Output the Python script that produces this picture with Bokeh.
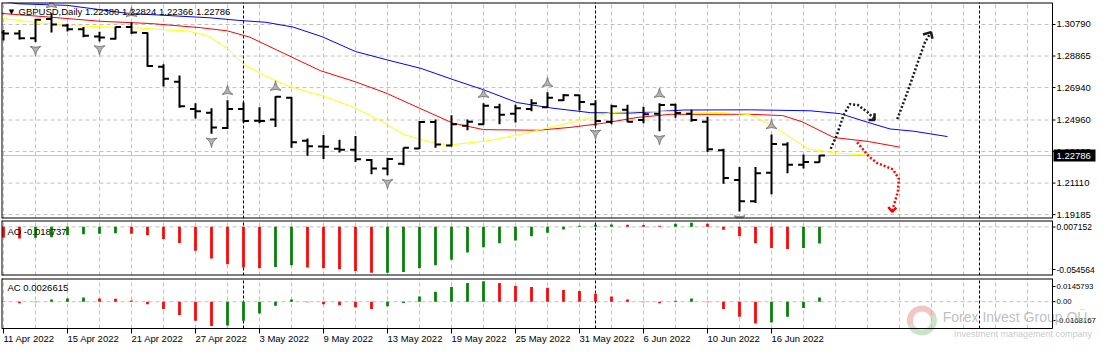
import math
from bokeh.plotting import figure
from bokeh.models import Range1d
from bokeh.layouts import column
from bokeh.embed import file_html
from bokeh.resources import INLINE
from bokeh.core.properties import value

# ---------------- data ----------------
symbol = "GBPUSD,Daily"
date_labels = ["11 Apr 2022", "15 Apr 2022", "21 Apr 2022", "27 Apr 2022", "3 May 2022",
               "9 May 2022", "13 May 2022", "19 May 2022", "25 May 2022", "31 May 2022",
               "6 Jun 2022", "10 Jun 2022", "16 Jun 2022"]
date_label_idx = [0, 4, 8, 12, 16, 20, 24, 28, 32, 36, 40, 44, 48]

opens = [1.30304, 1.30245, 1.29954, 1.31120, 1.30731, 1.30498, 1.30051, 1.29915, 1.30640, 1.30265,
         1.28204, 1.27290, 1.25637, 1.25404, 1.24470, 1.25637, 1.24918, 1.24995, 1.26318, 1.23693,
         1.23343, 1.23207, 1.23148, 1.22526, 1.22001, 1.22293, 1.23226, 1.24840, 1.23401, 1.24607,
         1.24704, 1.25734, 1.25345, 1.25637, 1.25734, 1.26162, 1.26473, 1.25929, 1.24859, 1.25579,
         1.24956, 1.25345, 1.25890, 1.25345, 1.24859, 1.23109, 1.21301, 1.19998, 1.21748, 1.23459,
         1.22234, 1.22380]
highs = [1.30459, 1.30459, 1.31120, 1.31470, 1.30829, 1.30634, 1.30342, 1.30654, 1.30926, 1.30304,
         1.28359, 1.27679, 1.25987, 1.25676, 1.26162, 1.26026, 1.25734, 1.26415, 1.26357, 1.23829,
         1.24043, 1.23751, 1.23984, 1.22584, 1.22662, 1.23265, 1.24898, 1.24995, 1.25248, 1.24995,
         1.25987, 1.25950, 1.25890, 1.26220, 1.26648, 1.26551, 1.26512, 1.26162, 1.25890, 1.25890,
         1.25773, 1.25987, 1.25950, 1.25579, 1.25151, 1.23207, 1.22098, 1.22098, 1.24082, 1.23595,
         1.22857, 1.22824]
lows = [1.29817, 1.29876, 1.29720, 1.30304, 1.30362, 1.30012, 1.29759, 1.29876, 1.30206, 1.28204,
        1.26998, 1.25715, 1.25054, 1.24120, 1.24412, 1.24801, 1.24762, 1.24529, 1.23265, 1.22779,
        1.22584, 1.22973, 1.22390, 1.21651, 1.21593, 1.22195, 1.23187, 1.23265, 1.23343, 1.24334,
        1.24665, 1.24704, 1.24801, 1.25501, 1.25695, 1.26123, 1.25540, 1.24607, 1.24704, 1.24820,
        1.24762, 1.24276, 1.25093, 1.24859, 1.23012, 1.21068, 1.19376, 1.19901, 1.20426, 1.21709,
        1.22001, 1.22366]
closes = [1.30245, 1.29954, 1.31081, 1.30790, 1.30498, 1.30109, 1.29992, 1.30640, 1.30304, 1.28262,
          1.27484, 1.25793, 1.25501, 1.24509, 1.25637, 1.24898, 1.24898, 1.26376, 1.23595, 1.23362,
          1.23330, 1.23148, 1.22565, 1.22001, 1.22584, 1.23265, 1.24840, 1.23459, 1.24704, 1.24859,
          1.25831, 1.25287, 1.25676, 1.25987, 1.26318, 1.26473, 1.26065, 1.24898, 1.25793, 1.24859,
          1.25306, 1.25870, 1.25384, 1.24956, 1.23168, 1.21418, 1.19998, 1.21709, 1.23498, 1.22234,
          1.22390, 1.22786]

ao = [-0.0118, -0.0130, -0.0122, -0.01155, -0.00938, -0.0083, -0.00758, -0.00722, -0.00758, -0.00938,
      -0.01371, -0.01805, -0.02671, -0.03537, -0.04186, -0.04547, -0.04656, -0.04511, -0.04295, -0.04547,
      -0.04656, -0.04764, -0.04944, -0.05161, -0.0514, -0.05053, -0.04656, -0.04295, -0.03681, -0.02887,
      -0.02274, -0.01841, -0.01516, -0.01047, -0.0065, -0.00289, 0.0013, 0.0025, 0.0026, 0.0024,
      0.0022, 0.0013, 0.0036, 0.0047, 0.0036, -0.0032, -0.01047, -0.01841, -0.02382, -0.0249,
      -0.02382, -0.018737]
ac = [-0.0002, -0.0010, -0.0003, 0.0014, 0.0020, 0.0026, 0.0020, 0.0019, 0.0008, -0.0016,
      -0.0046, -0.0083, -0.0119, -0.0153, -0.0150, -0.0119, -0.0074, -0.0026, 0.0014, -0.0003,
      -0.0016, -0.0022, -0.0034, -0.0046, -0.0028, -0.0008, 0.0032, 0.0062, 0.0093, 0.0117,
      0.0129, 0.0117, 0.0099, 0.0093, 0.0087, 0.0074, 0.0068, 0.0050, 0.0032, 0.0014,
      -0.0003, -0.0009, 0.0006, 0.0020, -0.0003, -0.0046, -0.0095, -0.0137, -0.0131, -0.0095,
      -0.0040, 0.0026615]

# Alligator lines (bar index, price)
jaw_x = [-0.2, 0.875, 4, 7.75, 12.9, 14.7, 16.4, 18.1, 19.9, 22, 23.9, 26.1, 28.1, 30, 32.1, 34.2,
         36.7, 39.2, 42.5, 46.7, 50.4, 52.3, 54, 55.4, 56.9, 59]
jaw_y = [1.3225, 1.32055, 1.31956, 1.31472, 1.31198, 1.31040, 1.30924, 1.30632, 1.30049, 1.29139,
         1.28649, 1.28107, 1.27424, 1.26806, 1.26024, 1.25697, 1.25406, 1.25382, 1.25569, 1.25581,
         1.25523, 1.25347, 1.24823, 1.24414, 1.24274, 1.23948]
teeth_x = [-0.2, 2.9, 6.1, 9.2, 12.3, 14, 15.4, 17.5, 19.8, 22, 23.9, 26.1, 28.1, 30, 33.4, 35.4,
           37.5, 39.6, 41.7, 46.7, 48.7, 49.9, 51.9, 54, 56]
teeth_y = [1.31472, 1.31239, 1.30982, 1.30848, 1.30597, 1.30399, 1.30014, 1.29040, 1.27972, 1.27290,
           1.26607, 1.25639, 1.24764, 1.24373, 1.24333, 1.24507, 1.24764, 1.25114, 1.25307, 1.25307,
           1.25230, 1.24860, 1.23889, 1.23656, 1.23306]
lips_x = [-0.2, 1.9, 4, 6.1, 8.1, 10.25, 11.5, 12.75, 14, 15, 16.5, 17.9, 20, 21.9, 23.6, 25, 27.1,
          28.1, 30.25, 32.3, 34.4, 36.5, 37.9, 39.6, 45.1, 46.6, 47.2, 48.25, 49.5, 50.3, 51.9, 54]
lips_y = [1.31181, 1.30924, 1.30731, 1.30656, 1.30597, 1.30457, 1.30399, 1.30107, 1.29332, 1.28357,
          1.27584, 1.26998, 1.26415, 1.25732, 1.24898, 1.24082, 1.23498, 1.23457, 1.23691, 1.24082,
          1.24566, 1.25056, 1.25406, 1.25499, 1.25406, 1.25289, 1.25056, 1.24473, 1.23691, 1.23207,
          1.22957, 1.22817]

fractal_up = [3, 8, 14, 17, 30, 34, 41, 48]
fractal_down = [2, 6, 13, 24, 37, 41, 46]
month_starts = [15, 37, 61]

price_ticks = [1.30790, 1.28865, 1.26940, 1.24960, 1.23035, 1.21110, 1.19185]
price_min, price_max = 1.18948, 1.32132
ao_min, ao_max = -0.054564, 0.007152
ac_min, ac_max = -0.0168167, 0.0145793

# hand-drawn forecast sketches (bar index, price)
fc_up1_x = [51.7, 52.1, 52.5, 52.9, 53.4, 54.0, 54.4]
fc_up1_y = [1.23207, 1.24082, 1.25248, 1.25931, 1.25872, 1.25441, 1.25056]
fc_up1_head_x = [54.06, 54.44, 54.44]
fc_up1_head_y = [1.24957, 1.24957, 1.25365]
fc_up2_x = [55.86, 56.48, 57.1, 57.6, 57.97]
fc_up2_y = [1.25015, 1.26608, 1.28358, 1.29722, 1.30323]
fc_up2_head_x = [57.47, 57.97, 58.06]
fc_up2_head_y = [1.30177, 1.30323, 1.29915]
fc_dn_x = [53.35, 54.1, 54.6, 55.6, 55.96, 55.9, 55.6, 55.54]
fc_dn_y = [1.23598, 1.22723, 1.22332, 1.21941, 1.21358, 1.20582, 1.19608, 1.19357]
fc_dn_head_x = [55.3, 55.54, 55.8]
fc_dn_head_y = [1.19648, 1.19357, 1.19619]

watermark = "Forex Invest Group O\u00dc"
watermark_sub = "Investment management company"

# ---------------- layout ----------------
FW_ALL = 1097            # full frame width (chart + price scale)
BAR_PX = 16
X0 = -0.125              # frame left edge, in bar units
XE = X0 + FW_ALL / BAR_PX
XB = X0 + 1051 / BAR_PX  # chart border / price-scale start
XPX = 1.0 / BAR_PX
MAIN_H, AO_H, AC_H, DATE_H = 216, 55, 50, 18
FONT = value("Liberation Sans")
FS = value("9.5px")
GRID_C = "#C0C0C0"

xr = Range1d(X0, XE)
idx = list(range(len(closes)))


def make_fig(h, lo, hi, top, bottom):
    p = figure(frame_width=FW_ALL, frame_height=h, x_range=xr, y_range=Range1d(lo, hi),
               output_backend="svg", toolbar_location=None,
               x_axis_location=None, y_axis_location=None,
               min_border_left=1, min_border_right=0, min_border_top=top, min_border_bottom=bottom,
               background_fill_color="white", border_fill_color="white", outline_line_color=None)
    p.grid.visible = False
    return p


def decorate(p, lo, hi):
    gx = [g for g in range(0, 80, 2) if g < XB]
    p.segment(x0=gx, y0=[lo] * len(gx), x1=gx, y1=[hi] * len(gx),
              line_color=GRID_C, line_dash="4 3", line_width=1)
    ms = [m for m in month_starts if m < XB]
    p.segment(x0=ms, y0=[lo] * len(ms), x1=ms, y1=[hi] * len(ms),
              line_color="black", line_dash="3 2", line_width=1)


def borders(p, lo, hi, bottom_inside=False):
    p.segment(x0=[X0, X0], y0=[hi, lo], x1=[XB, X0], y1=[hi, hi], line_color="black", line_width=2)
    p.segment(x0=[XB], y0=[lo], x1=[XB], y1=[hi], line_color="black", line_width=1)
    p.segment(x0=[X0], y0=[lo], x1=[XB], y1=[lo], line_color="black",
              line_width=1 if bottom_inside else 2)


def scale_labels(p, ticks, labels, size=FS):
    n = len(ticks)
    p.segment(x0=[XB] * n, y0=ticks, x1=[XB + 3 * XPX] * n, y1=ticks, line_color="black", line_width=1)
    p.text(x=[XB + 4 * XPX] * n, y=ticks, text=labels, text_font=FONT, text_font_size=size,
           text_align="left", text_baseline="middle", text_color="black")


# ---- main price panel ----
pm = make_fig(MAIN_H, price_min, price_max, top=2, bottom=1)
ppx = (price_max - price_min) / MAIN_H
decorate(pm, price_min, price_max)
nt = len(price_ticks)
pm.segment(x0=[X0] * nt, y0=price_ticks, x1=[XB] * nt, y1=price_ticks,
           line_color=GRID_C, line_dash="4 3", line_width=1)
pm.segment(x0=[X0], y0=[closes[-1]], x1=[XB], y1=[closes[-1]], line_color=GRID_C, line_width=1)

pm.line(jaw_x, jaw_y, line_color="#0000FF", line_width=1)
pm.line(teeth_x, teeth_y, line_color="#FF0000", line_width=1)
pm.line(lips_x, lips_y, line_color="#FFFF00", line_width=1)

pm.segment(x0=idx, y0=lows, x1=idx, y1=highs, line_color="black", line_width=2)
pm.segment(x0=[i - 0.34 for i in idx], y0=opens, x1=idx, y1=opens, line_color="black", line_width=2)
pm.segment(x0=idx, y0=closes, x1=[i + 0.34 for i in idx], y1=closes, line_color="black", line_width=2)

pm.scatter(fractal_up, [highs[i] + 9 * ppx for i in fractal_up], marker="triangle_pin", size=11,
           fill_color="#B4B4B4", line_color="#7A7A7A", line_width=1)
pm.scatter(fractal_down, [lows[i] - 7.5 * ppx for i in fractal_down], marker="triangle_pin", size=11,
           angle=math.pi, fill_color="#B4B4B4", line_color="#7A7A7A", line_width=1)

pm.line(fc_up1_x, fc_up1_y, line_color="#1A1A1A", line_width=2.5, line_dash="2 2")
pm.line(fc_up1_head_x, fc_up1_head_y, line_color="#1A1A1A", line_width=2.5)
pm.line(fc_up2_x, fc_up2_y, line_color="#1A1A1A", line_width=2.5, line_dash="2 2")
pm.line(fc_up2_head_x, fc_up2_head_y, line_color="#1A1A1A", line_width=2.5)
pm.line(fc_dn_x, fc_dn_y, line_color="#FF0000", line_width=2.5, line_dash="2 2")
pm.line(fc_dn_head_x, fc_dn_head_y, line_color="#FF0000", line_width=2.5)

pm.text(x=[X0 + 10 * XPX], y=[price_max - 9 * ppx], text=["\u25bc"], text_font=value("DejaVu Sans"),
        text_font_size=value("7px"), text_align="center", text_baseline="middle", text_color="black")
pm.text(x=[X0 + 17 * XPX], y=[price_max - 9 * ppx],
        text=[f"{symbol}  {opens[-1]:.5f} {highs[-1]:.5f} {lows[-1]:.5f} {closes[-1]:.5f}"],
        text_font=FONT, text_font_size=FS, text_align="left", text_baseline="middle", text_color="black")
scale_labels(pm, price_ticks, [f"{t:.5f}" for t in price_ticks])
pm.rect(x=[XB + 22 * XPX], y=[closes[-1]], width=42, height=12, width_units="screen",
        height_units="screen", fill_color="black", line_color=None)
pm.text(x=[XB + 4 * XPX], y=[closes[-1]], text=[f"{closes[-1]:.5f}"], text_font=FONT, text_font_size=FS,
        text_align="left", text_baseline="middle", text_color="white")
borders(pm, price_min, price_max)

# ---- AO panel ----
pa = make_fig(AO_H, ao_min, ao_max, top=1, bottom=1)
apx = (ao_max - ao_min) / AO_H
decorate(pa, ao_min, ao_max)
pa.segment(x0=[X0], y0=[0], x1=[XB], y1=[0], line_color=GRID_C, line_dash="4 3", line_width=1)
ao_col = ["#FF0000"] + ["#008000" if ao[i] > ao[i - 1] else "#FF0000" for i in range(1, len(ao))]
pa.vbar(x=idx, bottom=0, top=ao, width=0.17, fill_color=ao_col, line_color=None)
pa.text(x=[X0 + 6 * XPX], y=[ao_max - 11 * apx], text=[f"AO {ao[-1]:.6f}"], text_font=FONT,
        text_font_size=FS, text_align="left", text_baseline="middle", text_color="black")
scale_labels(pa, [ao_max - 6.5 * apx, ao_min + 6 * apx], [f"{ao_max:.6f}", f"{ao_min:.6f}"],
             size=value("8.5px"))
borders(pa, ao_min, ao_max)

# ---- AC panel (with the date row below it) ----
cpx = (ac_max - ac_min) / AC_H
ac_lo_fig = ac_min - DATE_H * cpx
pc = make_fig(AC_H + DATE_H, ac_lo_fig, ac_max, top=2, bottom=0)
decorate(pc, ac_min, ac_max)
pc.segment(x0=[X0], y0=[0], x1=[XB], y1=[0], line_color=GRID_C, line_dash="4 3", line_width=1)
ac_col = ["#FF0000"] + ["#008000" if ac[i] > ac[i - 1] else "#FF0000" for i in range(1, len(ac))]
pc.vbar(x=idx, bottom=0, top=ac, width=0.17, fill_color=ac_col, line_color=None)
pc.text(x=[X0 + 6 * XPX], y=[ac_max - 9 * cpx], text=[f"AC {ac[-1]:.7f}"], text_font=FONT,
        text_font_size=FS, text_align="left", text_baseline="middle", text_color="black")
scale_labels(pc, [ac_max - 8 * cpx, 0, ac_min + 8 * cpx],
             [f"{ac_max:.7f}", "0.00", f"{ac_min:.7f}"], size=value("7.8px"))

# date scale
nd = len(date_label_idx)
pc.segment(x0=date_label_idx, y0=[ac_min] * nd, x1=date_label_idx, y1=[ac_min - 5 * cpx] * nd,
           line_color="black", line_width=1)
pc.text(x=date_label_idx, y=[ac_min - 10 * cpx] * nd, text=date_labels, text_font=FONT,
        text_font_size=FS, text_align="left", text_baseline="middle", text_color="black")

# watermark
logo_x = 57.4
logo_y = ac_min + 8 * cpx
pc.annular_wedge(x=[logo_x], y=[logo_y], inner_radius=9, outer_radius=15,
                 inner_radius_units="screen", outer_radius_units="screen",
                 start_angle=math.radians(20), end_angle=math.radians(200),
                 fill_color="#E6A0A0", line_color=None, fill_alpha=0.6)
pc.annular_wedge(x=[logo_x], y=[logo_y], inner_radius=9, outer_radius=15,
                 inner_radius_units="screen", outer_radius_units="screen",
                 start_angle=math.radians(200), end_angle=math.radians(380),
                 fill_color="#A8D0A8", line_color=None, fill_alpha=0.6)
pc.text(x=[58.7], y=[ac_min + 12 * cpx], text=[watermark], text_font=FONT,
        text_font_size=value("14px"), text_align="left", text_baseline="middle",
        text_color="#B4B4B4", text_alpha=0.85)
pc.text(x=[59.4], y=[ac_min - 5 * cpx], text=[watermark_sub], text_font=FONT,
        text_font_size=value("9px"), text_align="left", text_baseline="middle",
        text_color="#BEBEBE", text_alpha=0.85)
borders(pc, ac_min, ac_max, bottom_inside=True)

layout = column(pm, pa, pc)
open("out.html", "w").write(file_html(layout, INLINE))
